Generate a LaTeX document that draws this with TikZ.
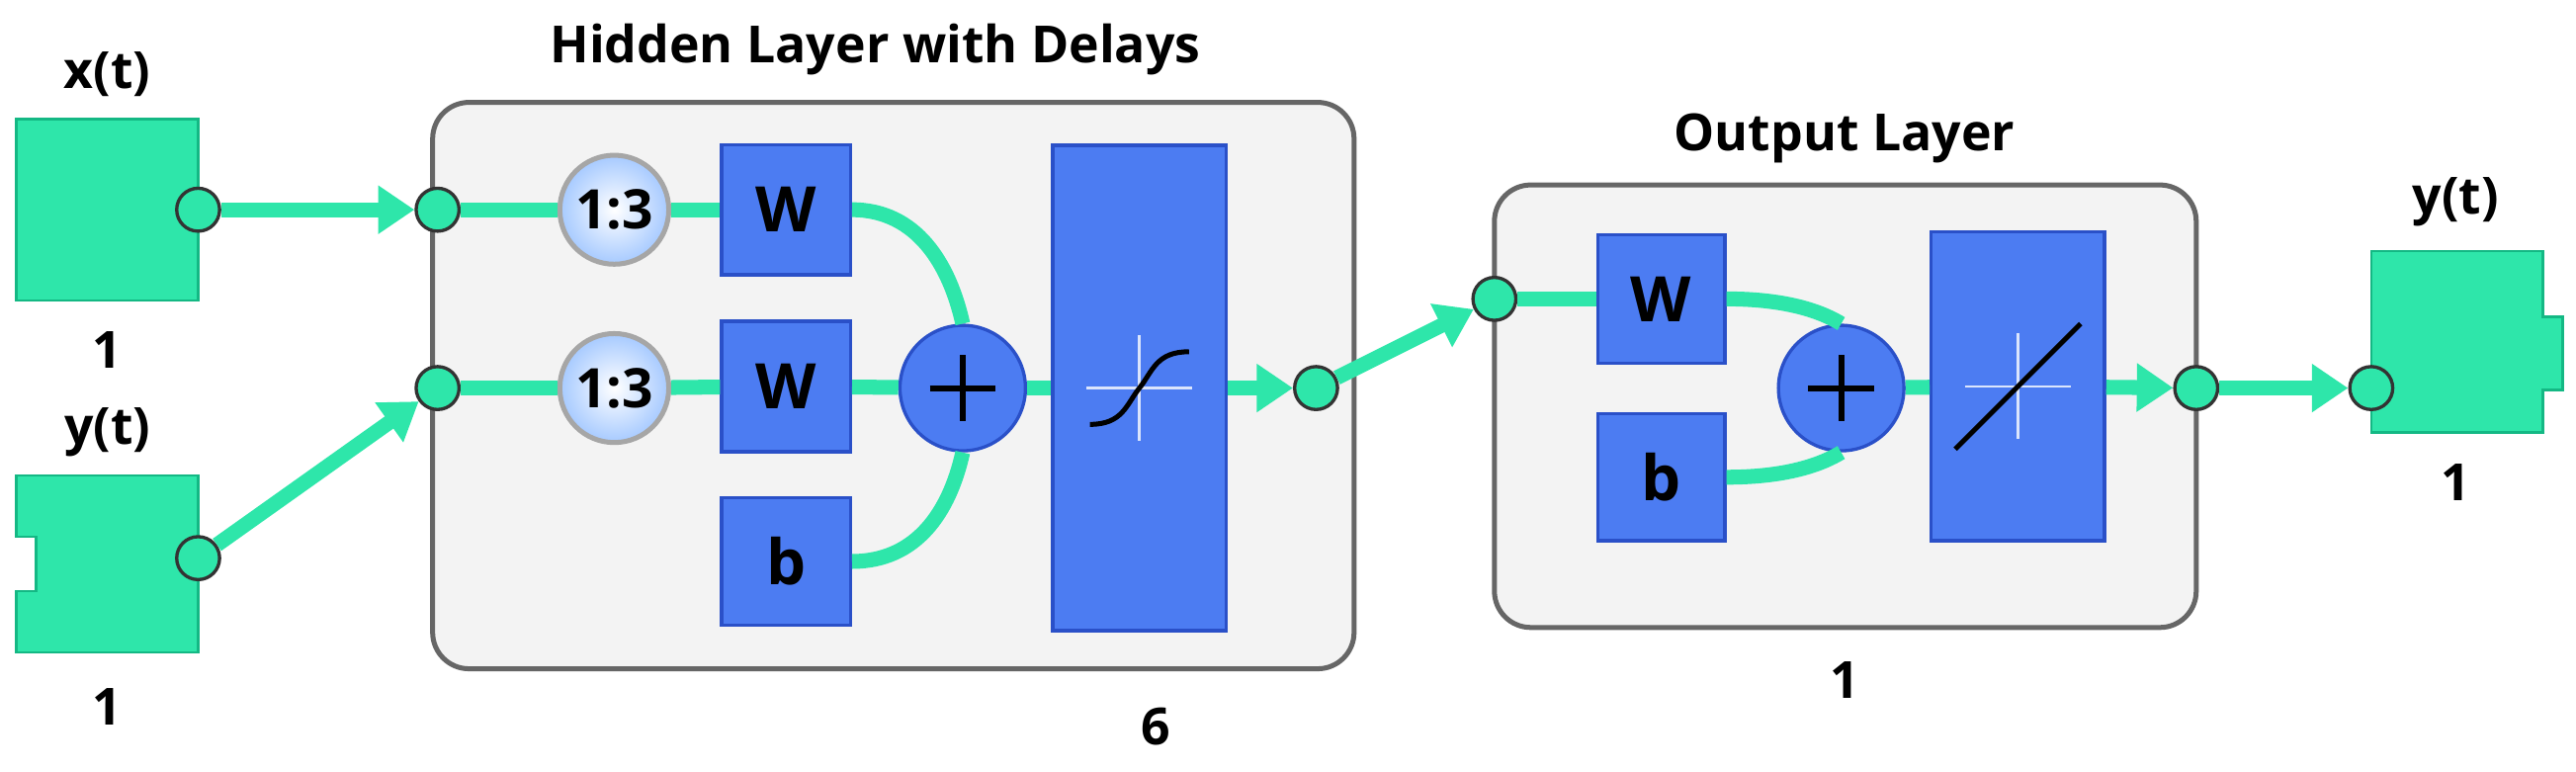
\documentclass[tikz,border=0pt]{standalone}
\usepackage{fontspec}
\setmainfont{Open Sans}
\usetikzlibrary{arrows.meta,shadings}
\definecolor{grn}{HTML}{2EE6AA}
\definecolor{grnd}{HTML}{14B884}
\definecolor{blu}{HTML}{4C7CF2}
\definecolor{blud}{HTML}{2A50C8}
\definecolor{boxg}{HTML}{F3F3F3}
\begin{document}
\begin{tikzpicture}[x=1pt,y=-1pt,
  lbl/.style={font=\fontsize{31}{34}\selectfont\bfseries,inner sep=0},
  wire/.style={draw=grn,line width=9pt},
  arr/.style={wire,-{Triangle[length=22pt,width=28pt,fill=grn]}},
  port/.style={circle,draw=black!80,fill=grn,line width=2pt,minimum size=26pt,inner sep=0},
  bbox/.style={draw=blud,fill=blu,line width=2pt,inner sep=0,font=\fontsize{38}{40}\selectfont\bfseries},
  layer/.style={draw=black!60,fill=boxg,line width=3pt,rounded corners=22pt},
  clk/.style={circle,draw=gray!70,line width=3pt,inner color=white,outer color=cyan!40!blue!35,minimum size=66pt,inner sep=0,font=\fontsize{33}{35}\selectfont\bfseries},
  inblk/.style={draw=grnd,fill=grn,line width=1.5pt}
]
\useasboundingbox (0,0) rectangle (1560,467);
% layer boxes
\draw[layer] (262,62) rectangle (820,405);
\draw[layer] (905,112) rectangle (1330,380);
\node[lbl] (tH) at (530,30) {Hidden Layer with Delays};
\node[lbl] (tO) at (1117,84) {Output Layer};
\node[lbl] (n6) at (700,440) {6};
\node[lbl] (n1o) at (1117,412) {1};
% inputs
\draw[inblk] (10,72) rectangle (120,182);
\node[lbl] (lx) at (65,45) {x(t)};
\node[lbl] (lx1) at (65,212) {1};
\draw[inblk] (10,288) -- (120,288) -- (120,395) -- (10,395) -- (10,358) -- (22,358) -- (22,325) -- (10,325) -- cycle;
\node[lbl] (ly) at (65,262) {y(t)};
\node[lbl] (ly1) at (65,428) {1};
% output block
\draw[inblk] (1436,152) -- (1540,152) -- (1540,192) -- (1552,192) -- (1552,236) -- (1540,236) -- (1540,262) -- (1436,262) -- cycle;
\node[lbl] (lyo) at (1487,122) {y(t)};
\node[lbl] (lyo1) at (1487,292) {1};
% blocks hidden
\node[clk] (c1) at (372,127) {1:3};
\node[clk] (c2) at (372,235) {1:3};
\node[bbox,minimum width=78pt,minimum height=79pt] (w1) at (476,127) {W};
\node[bbox,minimum width=78pt,minimum height=79pt] (w2) at (476,234) {W};
\node[bbox,minimum width=78pt,minimum height=77pt] (b1) at (476,340) {b};
\node[bbox,circle,minimum size=76pt] (s1) at (583,235) {};
\node[bbox,minimum width=105pt,minimum height=294pt] (f1) at (690,235) {};
% blocks output
\node[bbox,minimum width=77pt,minimum height=78pt] (w3) at (1006,181) {W};
\node[bbox,minimum width=77pt,minimum height=77pt] (b2) at (1006,289) {b};
\node[bbox,circle,minimum size=76pt] (s2) at (1115,235) {};
\node[bbox,minimum width=105pt,minimum height=187pt] (f2) at (1222,234) {};
% symbols
\foreach \s in {s1,s2}{\draw[line width=3.5pt] ([xshift=-20pt]\s.center) -- ([xshift=20pt]\s.center) ([yshift=-20pt]\s.center) -- ([yshift=20pt]\s.center);}
\draw[white!80!blu,line width=1.5pt] (f1.center)++(-32,0) -- ++(64,0) (f1.center)++(0,-32) -- ++(0,64);
\draw[line width=3pt] (f1.center)++(-30,22) .. controls ++(20,0) and ++(-8,10) .. ++(30,-22) .. controls ++(8,-10) and ++(-20,0) .. ++(30,-22);
\draw[white!80!blu,line width=1.5pt] (f2.center)++(-32,0) -- ++(64,0) (f2.center)++(0,-32) -- ++(0,64);
\draw[line width=3pt] (f2.center)++(-38,38) -- ++(76,-76);
% ports
\node[port] (px) at (120,127) {};
\node[port] (py) at (120,338) {};
\node[port] (h1) at (265,127) {};
\node[port] (h2) at (265,235) {};
\node[port] (ho) at (797,235) {};
\node[port] (oi) at (905,181) {};
\node[port] (oo) at (1330,235) {};
\node[port] (yo) at (1436,235) {};
% wires
\draw[arr] (px) -- (h1);
\draw[arr] (py) -- (h2);
\draw[wire] (h1) -- (c1); \draw[wire] (c1) -- (w1);
\draw[wire] (h2) -- (c2); \draw[wire] (c2) -- (w2);
\draw[wire] (w1.east) .. controls (555,127) and (575,160) .. (s1.north);
\draw[wire] (b1.east) .. controls (555,340) and (575,310) .. (s1.south);
\draw[wire] (w2) -- (s1);
\draw[wire] (s1) -- (f1);
\draw[arr] (f1) -- (ho);
\draw[arr] (ho) -- (oi);
\draw[wire] (oi) -- (w3);
\draw[wire] (w3.east) .. controls (1085,181) and (1105,190) .. (s2.north);
\draw[wire] (b2.east) .. controls (1085,289) and (1105,280) .. (s2.south);
\draw[wire] (s2) -- (f2);
\draw[arr] (f2) -- (oo);
\draw[arr] (oo) -- (yo);
\end{tikzpicture}
\end{document}
